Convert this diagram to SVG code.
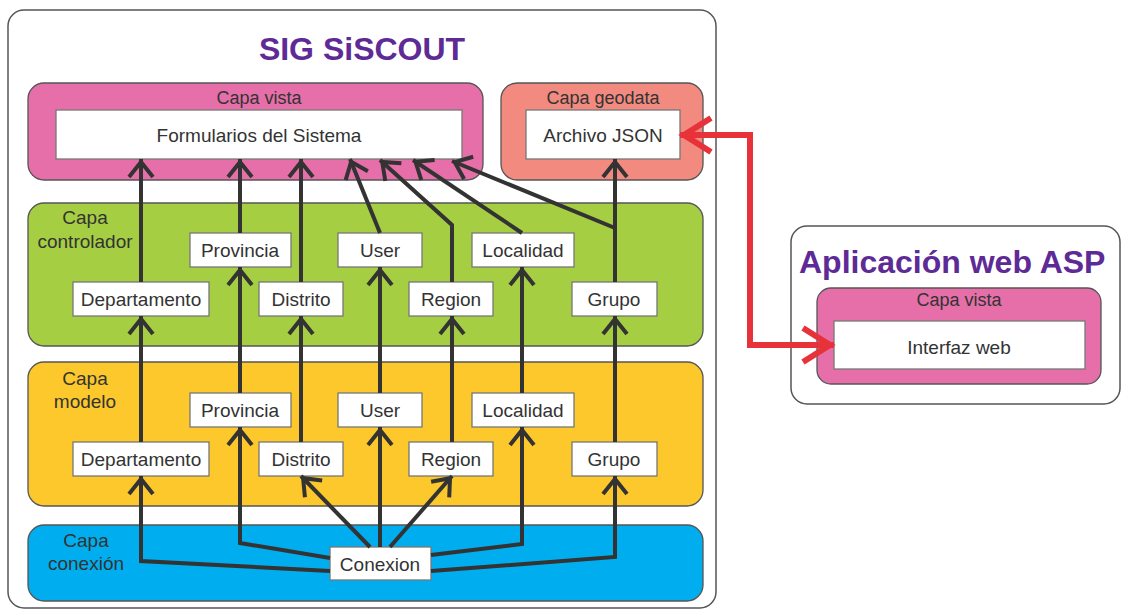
<svg xmlns="http://www.w3.org/2000/svg" width="1121" height="611" viewBox="0 0 1121 611">
<style>
.cont{fill:#fff;stroke:#555;stroke-width:1.5}
.layer{stroke:#555;stroke-width:1.3}
.box{fill:#fff;stroke:#777;stroke-width:1.3}
.t{font-family:"Liberation Sans",Arial,sans-serif;fill:#333;text-anchor:middle}
.lbl{font-size:19px}
.cap{font-size:18px}
.title{font-family:"Liberation Sans",Arial,sans-serif;font-weight:bold;fill:#5e2a96;font-size:32px}
.c{fill:none;stroke:#333;stroke-width:4;stroke-linejoin:miter;marker-end:url(#ah)}
.r{fill:none;stroke:#e8323a;stroke-width:6;marker-end:url(#rh);marker-start:url(#rh)}
</style>
<defs>
<marker id="ah" markerUnits="userSpaceOnUse" viewBox="-22 -15 26 30" refX="0" refY="0" markerWidth="26" markerHeight="30" orient="auto" overflow="visible">
<path d="M-18,-12 L-3,0 L-18,12" fill="none" stroke="#333" stroke-width="4"/>
</marker>
<marker id="rh" markerUnits="userSpaceOnUse" viewBox="-35 -20 40 40" refX="0" refY="0" markerWidth="40" markerHeight="40" orient="auto-start-reverse" overflow="visible">
<path d="M-31,-17 L-4,0 L-31,17" fill="none" stroke="#e8323a" stroke-width="6"/>
</marker>
</defs>
<rect width="1121" height="611" fill="#fff"/>

<g id="sig-siscout">
<rect class="cont" x="8" y="10" width="708" height="598" rx="16"/>
<text class="title" x="362" y="60" text-anchor="middle">SIG SiSCOUT</text>
</g>

<g id="capa-vista">
<rect class="layer" x="28" y="83" width="455" height="97" rx="16" fill="#e66fa9"/>
<text class="t cap" x="259" y="98" dominant-baseline="central">Capa vista</text>
</g>
<g id="capa-geodata">
<rect class="layer" x="501" y="83" width="202" height="97" rx="16" fill="#f28a80"/>
<text class="t cap" x="603" y="98" dominant-baseline="central">Capa geodata</text>
</g>
<g id="capa-controlador">
<rect class="layer" x="28" y="203" width="675" height="143" rx="16" fill="#a6ce43"/>
<text class="t lbl" x="85" y="224">Capa</text>
<text class="t lbl" x="85" y="248">controlador</text>
</g>
<g id="capa-modelo">
<rect class="layer" x="28" y="362" width="675" height="144" rx="16" fill="#fdc82b"/>
<text class="t lbl" x="85" y="385">Capa</text>
<text class="t lbl" x="85" y="408">modelo</text>
</g>
<g id="capa-conexion">
<rect class="layer" x="28" y="525" width="675" height="76" rx="16" fill="#00aeef"/>
<text class="t lbl" x="86" y="547">Capa</text>
<text class="t lbl" x="86" y="570">conexión</text>
</g>

<g id="app-asp">
<rect class="cont" x="791" y="226" width="329" height="178" rx="16"/>
<text class="title" x="799" y="273">Aplicación web ASP</text>
</g>
<g id="asp-capa-vista">
<rect class="layer" x="817" y="288" width="284" height="96" rx="14" fill="#e66fa9"/>
<text class="t cap" x="959" y="300" dominant-baseline="central">Capa vista</text>
</g>

<g id="formularios"><rect class="box" x="56" y="110" width="406" height="49"/><text class="t lbl" x="259" y="135" dominant-baseline="central">Formularios del Sistema</text></g>
<g id="archivo-json"><rect class="box" x="526" y="110" width="154" height="49"/><text class="t lbl" x="603" y="135" dominant-baseline="central">Archivo JSON</text></g>
<g id="interfaz-web"><rect class="box" x="834" y="321" width="251" height="48"/><text class="t lbl" x="959" y="347" dominant-baseline="central">Interfaz web</text></g>

<g id="c-provincia"><rect class="box" x="190" y="233" width="101" height="34"/><text class="t lbl" x="240" y="250" dominant-baseline="central">Provincia</text></g>
<g id="c-user"><rect class="box" x="338" y="233" width="84" height="34"/><text class="t lbl" x="380" y="250" dominant-baseline="central">User</text></g>
<g id="c-localidad"><rect class="box" x="472" y="233" width="102" height="34"/><text class="t lbl" x="523" y="250" dominant-baseline="central">Localidad</text></g>
<g id="c-departamento"><rect class="box" x="73" y="282" width="136" height="34"/><text class="t lbl" x="141" y="299" dominant-baseline="central">Departamento</text></g>
<g id="c-distrito"><rect class="box" x="259" y="282" width="84" height="34"/><text class="t lbl" x="301" y="299" dominant-baseline="central">Distrito</text></g>
<g id="c-region"><rect class="box" x="409" y="282" width="84" height="34"/><text class="t lbl" x="451" y="299" dominant-baseline="central">Region</text></g>
<g id="c-grupo"><rect class="box" x="572" y="282" width="85" height="34"/><text class="t lbl" x="614" y="299" dominant-baseline="central">Grupo</text></g>

<g id="m-provincia"><rect class="box" x="190" y="393" width="101" height="34"/><text class="t lbl" x="240" y="410" dominant-baseline="central">Provincia</text></g>
<g id="m-user"><rect class="box" x="338" y="393" width="84" height="34"/><text class="t lbl" x="380" y="410" dominant-baseline="central">User</text></g>
<g id="m-localidad"><rect class="box" x="472" y="393" width="102" height="34"/><text class="t lbl" x="523" y="410" dominant-baseline="central">Localidad</text></g>
<g id="m-departamento"><rect class="box" x="73" y="442" width="136" height="34"/><text class="t lbl" x="141" y="459" dominant-baseline="central">Departamento</text></g>
<g id="m-distrito"><rect class="box" x="259" y="442" width="84" height="34"/><text class="t lbl" x="301" y="459" dominant-baseline="central">Distrito</text></g>
<g id="m-region"><rect class="box" x="409" y="442" width="84" height="34"/><text class="t lbl" x="451" y="459" dominant-baseline="central">Region</text></g>
<g id="m-grupo"><rect class="box" x="572" y="442" width="85" height="34"/><text class="t lbl" x="614" y="459" dominant-baseline="central">Grupo</text></g>

<g id="conexion"><rect class="box" x="330" y="547" width="101" height="33"/><text class="t lbl" x="380" y="564" dominant-baseline="central">Conexion</text></g>

<g id="connectors">
<path class="c" d="M330,571 L141,561 V476"/>
<path class="c" d="M330,558 L240,543 V427"/>
<path class="c" d="M370,547 L301,476"/>
<path class="c" d="M380,547 V427"/>
<path class="c" d="M390,547 L452,476"/>
<path class="c" d="M431,555 L522,544 V427"/>
<path class="c" d="M431,571 L615,557 V476"/>
<path class="c" d="M141,442 V316"/>
<path class="c" d="M240,393 V267"/>
<path class="c" d="M301,442 V316"/>
<path class="c" d="M380,393 V267"/>
<path class="c" d="M452,442 V316"/>
<path class="c" d="M522,393 V267"/>
<path class="c" d="M615,442 V316"/>
<path class="c" d="M141,282 V159"/>
<path class="c" d="M240,233 V159"/>
<path class="c" d="M301,282 V159"/>
<path class="c" d="M380,233 L350,159"/>
<path class="c" d="M452,282 V225 L380,160"/>
<path class="c" d="M522,233 L413,160"/>
<path class="c" d="M615,228 L452,161"/>
<path class="c" d="M615,282 V159"/>
<path class="r" d="M680,135 H750 V345 H834"/>
</g>
</svg>
